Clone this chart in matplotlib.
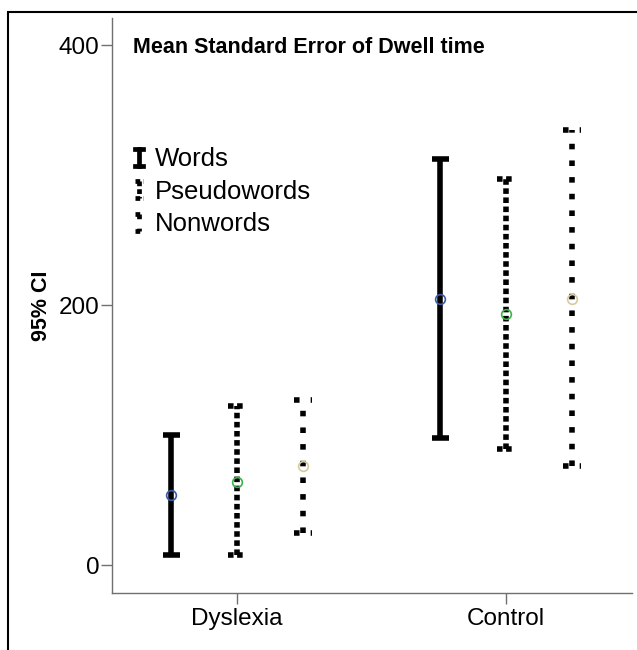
import numpy as np
import matplotlib
matplotlib.use("Agg")
import matplotlib.pyplot as plt
from matplotlib.lines import Line2D
from matplotlib.patches import Rectangle
from matplotlib.legend_handler import HandlerBase

groups = ["Dyslexia", "Control"]
series = ["Words", "Pseudowords", "Nonwords"]

words_mean = [54, 205]
words_lo = [8, 98]
words_hi = [100, 312]

pseudo_mean = [64, 193]
pseudo_lo = [8, 89]
pseudo_hi = [122, 297]

non_mean = [76, 205]
non_lo = [25, 76]
non_hi = [127, 335]

yticks = [0, 200, 400]

plt.rcParams["font.family"] = ["Liberation Sans", "DejaVu Sans"]

LW = 4.0
styles = {
    "Words": "-",
    "Pseudowords": (0, (1, 0.64)),
    "Nonwords": (0, (1, 2.0)),
}
mcolors = {
    "Words": "#3d5aa8",
    "Pseudowords": "#3cb34a",
    "Nonwords": "#d4cc9c",
}


class HandlerCI(HandlerBase):
    # little vertical CI glyph for the legend
    def create_artists(self, legend, orig_handle, xdescent, ydescent,
                       width, height, fontsize, trans):
        ls = orig_handle.ci_style
        lw = LW * 0.85
        cx = width / 2 - xdescent
        y0 = -ydescent
        y1 = height - ydescent
        hw = width / 2
        v = Line2D([cx, cx], [y1, y0], color="k", lw=lw, linestyle=ls,
                   transform=trans)
        c0 = Line2D([cx - hw, cx + hw], [y0, y0], color="k", lw=lw,
                    linestyle=ls, transform=trans)
        c1 = Line2D([cx - hw, cx + hw], [y1, y1], color="k", lw=lw,
                    linestyle=ls, transform=trans)
        return [v, c0, c1]


fig = plt.figure(figsize=(6.37, 6.5), dpi=100)
ax = fig.add_axes([0.1758, 0.0877, 0.8162, 0.8846])

x = np.arange(len(groups))
offsets = [-0.245, 0.0, 0.245]
capw = 0.032
data = [
    ("Words", words_mean, words_lo, words_hi),
    ("Pseudowords", pseudo_mean, pseudo_lo, pseudo_hi),
    ("Nonwords", non_mean, non_lo, non_hi),
]

handles = []
for (name, m, lo, hi), off in zip(data, offsets):
    xs = x + off
    ax.vlines(xs, lo, hi, colors="k", linewidth=LW, linestyles=styles[name], zorder=2)
    ax.hlines(lo, xs - capw, xs + capw, colors="k", linewidth=LW,
              linestyles=styles[name], zorder=2)
    ax.hlines(hi, xs - capw, xs + capw, colors="k", linewidth=LW,
              linestyles=styles[name], zorder=2)
    ax.plot(xs, m, "o", ms=7, mfc="none", mec=mcolors[name], mew=1.2, zorder=3)
    h = Line2D([], [], color="k", lw=LW)
    h.ci_style = styles[name]
    handles.append(h)

ax.set_xlim(-0.465, 1.468)
ax.set_ylim(-21.5, 420.8)
ax.set_xticks(x)
ax.set_xticklabels(groups)
ax.set_yticks(yticks)
ax.tick_params(axis="both", labelsize=17.5, colors="#707070", labelcolor="black",
               direction="out", width=1)
ax.tick_params(axis="y", length=8, pad=1)
ax.tick_params(axis="x", length=8, pad=3)

for s in ["top", "right"]:
    ax.spines[s].set_visible(False)
for s in ["left", "bottom"]:
    ax.spines[s].set_color("#707070")
    ax.spines[s].set_linewidth(1)

ax.set_ylabel("95% CI", fontsize=15.5, fontweight="bold", labelpad=5)

ax.text(0.04, 0.948, "Mean Standard Error of Dwell time", transform=ax.transAxes,
        fontsize=15.5, fontweight="bold", ha="left", va="center")

leg = ax.legend(handles, series, handler_map={Line2D: HandlerCI()},
                loc="upper left", bbox_to_anchor=(0.044, 0.775), frameon=False,
                fontsize=18.5, handlelength=0.32, handleheight=0.65,
                handletextpad=0.45, labelspacing=0.33, borderpad=0,
                borderaxespad=0)

# outer frame around the picture
fig.patches.append(Rectangle((8 / 637, -0.02), 640 / 637, (650 - 12) / 650 + 0.02,
                             transform=fig.transFigure, fill=False,
                             edgecolor="black", linewidth=1.5))

fig.savefig("out.png", dpi=100)
